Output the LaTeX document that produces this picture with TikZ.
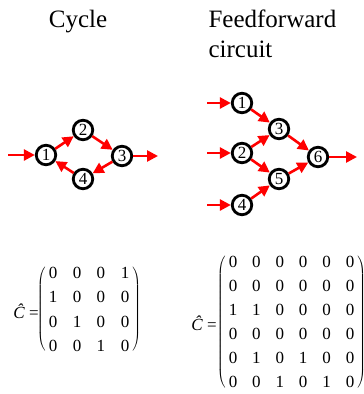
\documentclass[tikz,border=0pt]{standalone}
\usepackage{fontspec}
\setmainfont{Liberation Serif}
\usepackage{tikz}
\usetikzlibrary{arrows.meta,matrix}

\begin{document}
\begin{tikzpicture}[x=1pt, y=-1pt,
  neuron/.style={circle, draw, line width=2.8pt, minimum size=19.5pt, inner sep=0pt, font=\fontsize{17}{17}\selectfont},
  syn/.style={draw=red, line width=2.6pt, -{Triangle[length=11pt,width=11pt]}},
  title/.style={font=\fontsize{25}{30}\selectfont},
  conn/.style={matrix of nodes, inner sep=0pt,
    nodes={minimum width=12pt, minimum height=12pt, inner sep=0pt, font=\fontsize{17}{17}\selectfont},
    left delimiter=(, right delimiter=),
    every left delimiter/.style={inner sep=0pt, xshift=-1pt},
    every right delimiter/.style={inner sep=0pt, xshift=1pt}},
  chat/.style={font=\fontsize{17}{17}\selectfont}]
  \useasboundingbox (0,0) rectangle (364,394);
  % titles
  \node[title, anchor=base] (cycT) at (78,27) {Cycle};
  \node[title, anchor=base west] (ffT) at (205,27) {Feedforward};
  \node[title, anchor=base west] (ffT2) at (205,57) {circuit};
  % cycle
  \node[neuron] (c1) at (46,155) {1};
  \node[neuron] (c2) at (83,130) {2};
  \node[neuron] (c3) at (122,156) {3};
  \node[neuron] (c4) at (83,179) {4};
  \coordinate (cin) at (8,155);
  \coordinate (cout) at (158,156);
  \draw[syn] (cin) -- (c1);
  \draw[syn] (c3) -- (cout);
  \foreach \src/\dst in {c1/c2, c2/c3, c3/c4, c4/c1}
    \draw[syn] (\src) -- (\dst);
  % feedforward circuit
  \node[neuron] (f1) at (242,103) {1};
  \node[neuron] (f2) at (242,153) {2};
  \node[neuron] (f3) at (279,129) {3};
  \node[neuron] (f4) at (242,205) {4};
  \node[neuron] (f5) at (279,179) {5};
  \node[neuron] (f6) at (318,157) {6};
  \foreach \n in {1,2,4} {
    \coordinate (fin\n) at (207,0 |- f\n);
    \draw[syn] (fin\n) -- (f\n);
  }
  \coordinate (fout) at (357,157);
  \draw[syn] (f6) -- (fout);
  \foreach \src/\dst in {f1/f3, f2/f3, f2/f5, f4/f5, f3/f6, f5/f6}
    \draw[syn] (\src) -- (\dst);
  % connectivity matrices
  \matrix (cycM) [conn, column sep=12pt, row sep=12.3pt] at (89,309.5) {
    0 & 0 & 0 & 1 \\
    1 & 0 & 0 & 0 \\
    0 & 1 & 0 & 0 \\
    0 & 0 & 1 & 0 \\
  };
  \node[chat] (cycC) at (26,311) {\textit{Ĉ} =};
  \matrix (ffM) [conn, column sep=11.4pt, row sep=12pt] at (291.5,322) {
    0 & 0 & 0 & 0 & 0 & 0 \\
    0 & 0 & 0 & 0 & 0 & 0 \\
    1 & 1 & 0 & 0 & 0 & 0 \\
    0 & 0 & 0 & 0 & 0 & 0 \\
    0 & 1 & 0 & 1 & 0 & 0 \\
    0 & 0 & 1 & 0 & 1 & 0 \\
  };
  \node[chat] (ffC) at (204,323) {\textit{Ĉ} =};
\end{tikzpicture}
\end{document}
